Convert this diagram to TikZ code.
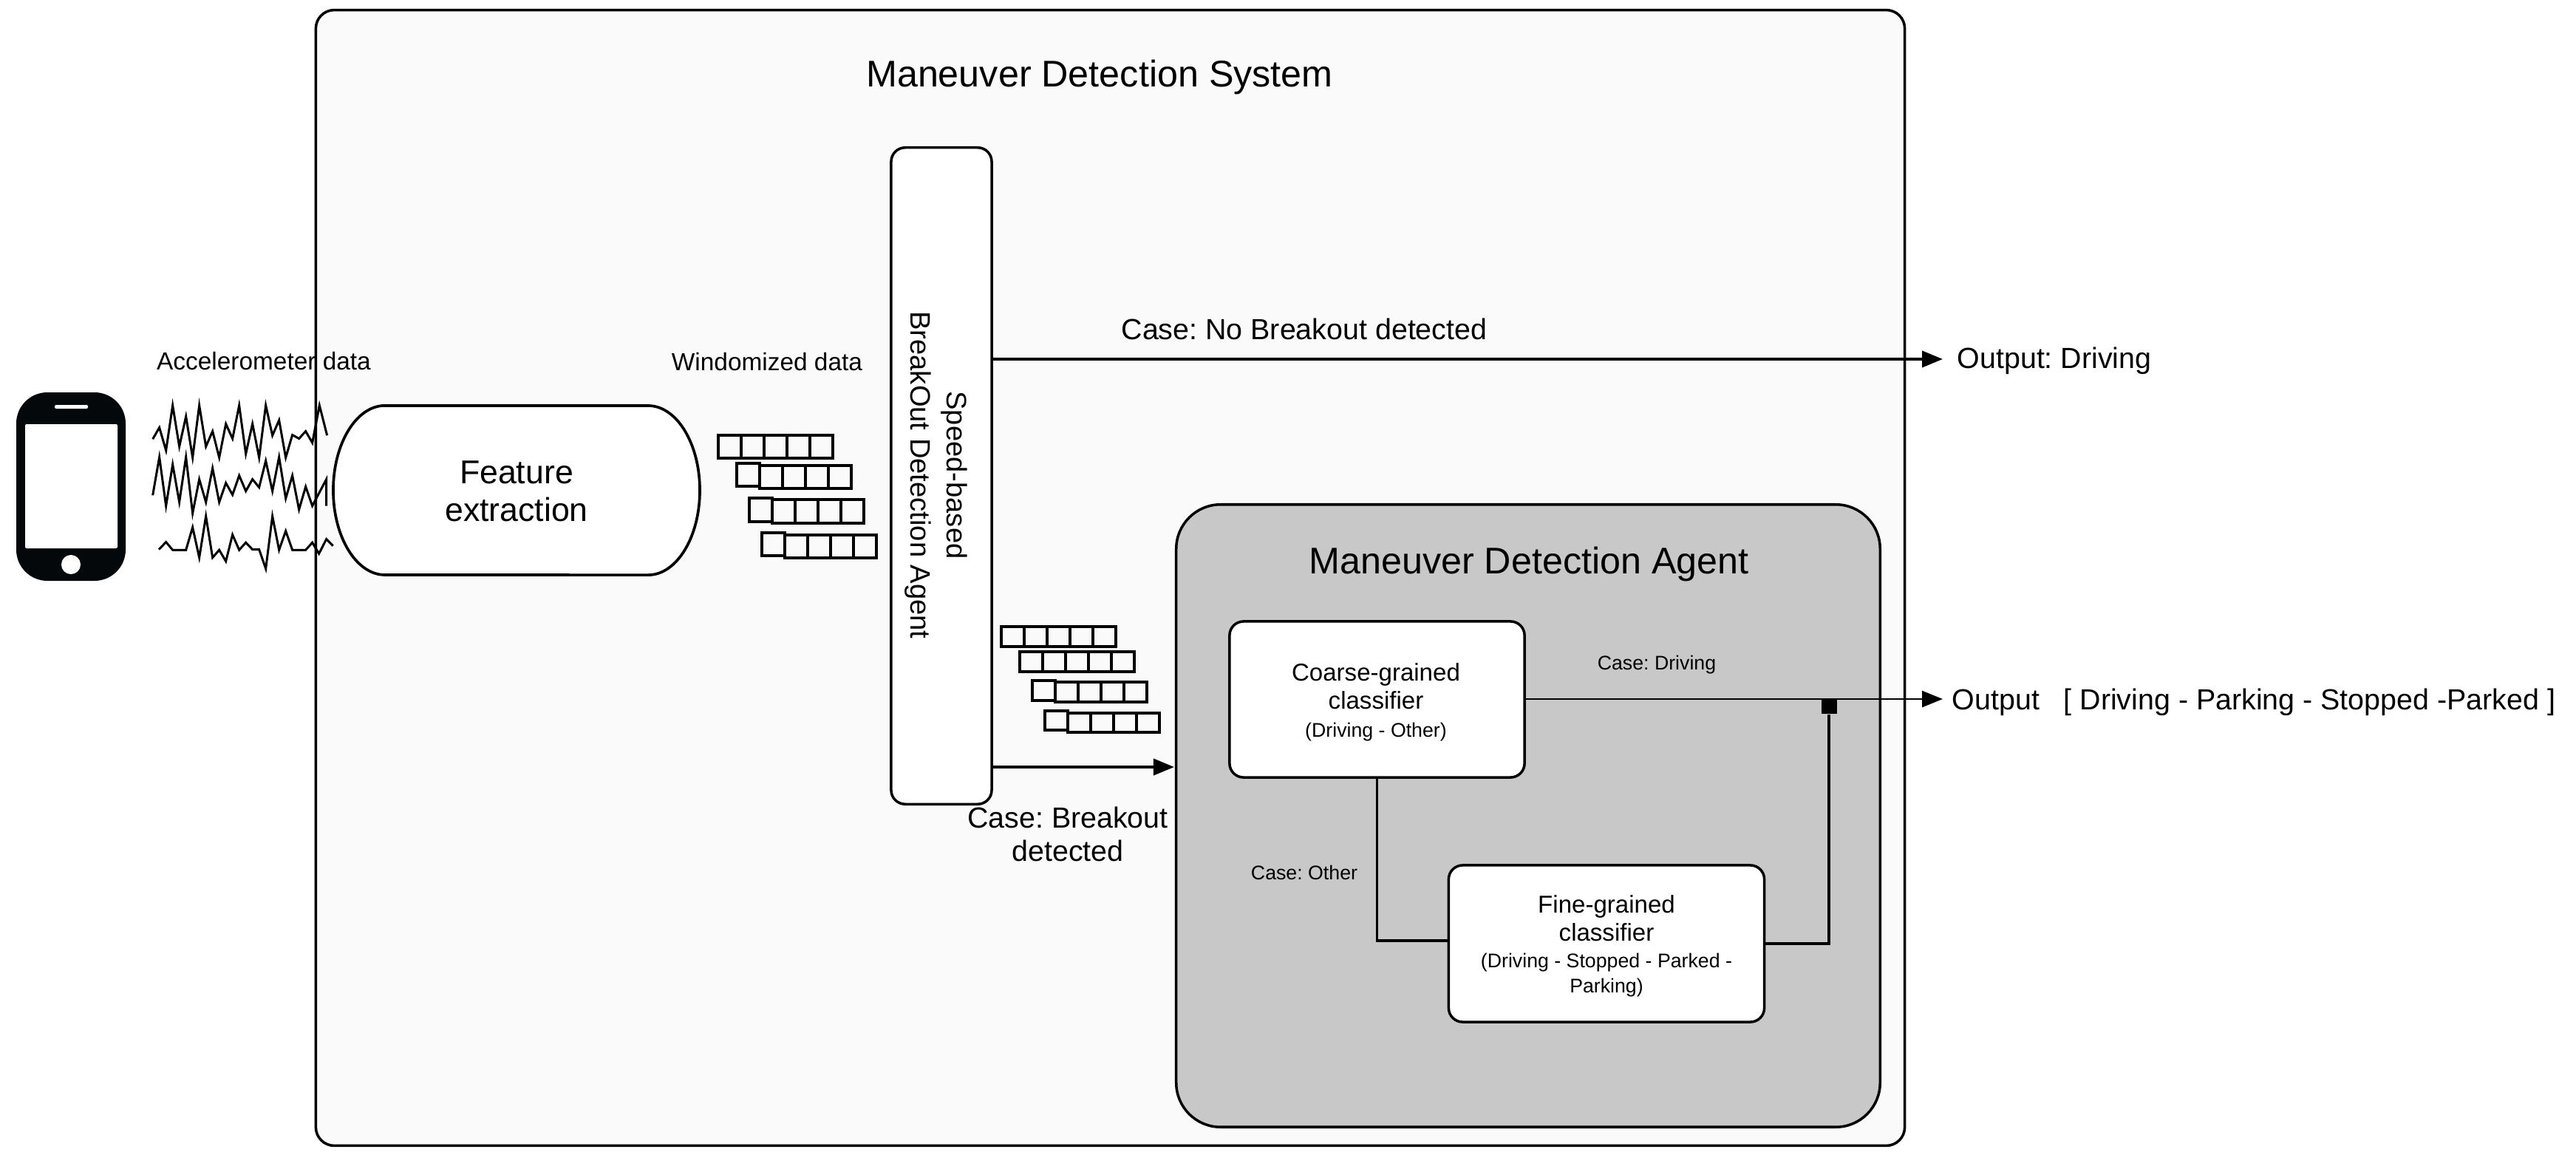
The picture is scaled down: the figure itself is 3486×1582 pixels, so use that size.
\documentclass[tikz,border=0pt]{standalone}
\usepackage{fontspec}
\setmainfont{Liberation Sans}
\usetikzlibrary{arrows.meta}

\definecolor{sysgray}{HTML}{FAFAFA}
\definecolor{agentgray}{HTML}{C8C8C8}
\definecolor{phoneblack}{HTML}{05080A}

\newcommand{\subfont}{\fontsize{7.6}{9.7}\selectfont}
\frenchspacing

\tikzset{
    textlabel/.style={inner sep=0pt, align=center, font=\fontsize{11.2}{12.8}\selectfont},
    smalllabel/.style={inner sep=0pt, align=center, font=\fontsize{9.5}{11.4}\selectfont},
    tinylabel/.style={inner sep=0pt, align=center, font=\subfont},
    titlelabel/.style={inner sep=0pt, font=\fontsize{14.3}{17}\selectfont},
    classlabel/.style={inner sep=0pt, align=center, font=\fontsize{9.4}{10.8}\selectfont},
    roundbox/.style={draw, line width=1pt, inner sep=0pt, rounded corners=.19cm},
    flow/.style={line width=1.1pt, arrows = {-Triangle[width=.22cm, length=.28cm]}},
    wire/.style={line width=.95pt},
    cell/.style={line width=1pt},
    wave/.style={line width=.85pt, line join=miter}
}

\begin{document}
\begin{tikzpicture}[x=.01cm, y=-.01cm]
    \useasboundingbox (0,0) rectangle (3486,1582);

    \node[roundbox, fill=sysgray, rounded corners=.25cm, minimum width=21.49cm, minimum height=15.36cm] (system) at (1502.5,782) {};
    \node[titlelabel] (systemtitle) at (1488,105) {Maneuver Detection System};

    % phone
    \fill[phoneblack, rounded corners=.42cm] (22,531) rectangle (170,786);
    \fill[white, rounded corners=.02cm] (34,574) rectangle (159,742);
    \fill[white, rounded corners=.02cm] (74,548) rectangle (119,553);
    \fill[white] (96,764) circle (.13cm);

    % feature extraction
    \draw[line width=1.05pt, fill=white] (521,549) -- (877,549) arc[start angle=90, end angle=-90, x radius=.70cm, y radius=1.145cm]
        -- (521,778) arc[start angle=270, end angle=90, x radius=.70cm, y radius=1.145cm] -- cycle;
    \node[textlabel, font=\fontsize{12.7}{14.5}\selectfont] (feature) at (699,665) {Feature\\extraction};

    % accelerometer signals
    \begin{scope}[x=.01cm/3, y=-.01cm/3, yshift=-4.5cm]
        \draw[wave] plot coordinates {(620,432) (647,385) (674,478) (701,295) (728,462) (755,340) (782,507) (809,295) (836,462) (863,400) (890,507) (917,370) (944,430) (971,295) (998,492) (1025,370) (1052,507) (1079,295) (1106,417) (1133,355) (1160,507) (1187,415) (1214,430) (1241,400) (1268,447) (1297,295) (1328,417)};
        \draw[wave] plot coordinates {(620,660) (647,505) (674,703) (701,535) (728,688) (755,505) (782,733) (809,595) (836,688) (863,550) (890,688) (917,610) (944,658) (971,580) (998,643) (1025,595) (1052,628) (1079,520) (1106,643) (1133,505) (1160,673) (1187,580) (1214,718) (1241,625) (1268,703) (1325,595) (1325,703)};
        \draw[wave] plot coordinates {(645,880) (674,850) (701,882) (755,882) (782,790) (809,913) (836,745) (863,913) (890,882) (917,928) (944,820) (971,882) (998,852) (1025,880) (1052,880) (1079,958) (1106,745) (1133,882) (1160,805) (1187,882) (1241,882) (1268,852) (1295,897) (1325,838) (1352,865)};
    \end{scope}
    \node[smalllabel] (acclabel) at (357,489) {Accelerometer data};

    % windows: first cell x / y / cell height / offset of the other four cells
    \node[smalllabel] (windowlabel) at (1038,490) {Windomized data};
    \foreach \x/\y/\h/\dy in {972/589/31/0, 997/627/31/3, 1014/674/32/2, 1031/721/31/3, 1355/848/27/0, 1380/882/27/0, 1397/921/27/2, 1414/962/26/3} {
        \draw[cell] (\x,\y) rectangle ++(31,\h);
        \foreach \i in {1,...,4}
            \draw[cell] ({\x+31*\i},{\y+\dy}) rectangle ++(31,\h);
    }

    % breakout agent
    \node[roundbox, fill=white, rotate=-90, minimum width=8.88cm, minimum height=1.36cm] (speed) at (1274,644) {};
    \node[rotate=-90, inner sep=0pt, align=center, font=\fontsize{10.85}{13.9}\selectfont] (speedtext) at (1267,643) {Speed-based\\BreakOut Detection Agent};

    \coordinate (drivingtip) at (2629,486);
    \draw[flow] (speed.north |- drivingtip) -- (drivingtip);
    \node[textlabel, anchor=west] (outdriving) at (2648,488) {Output: Driving};
    \node[textlabel] (nobreak) at (1765,445) {Case: No Breakout detected};

    % agent
    \node[roundbox, fill=agentgray, rounded corners=.6cm, minimum width=9.52cm, minimum height=8.42cm] (agent) at (2068,1104) {};
    \node[titlelabel] (agenttitle) at (2069,763) {Maneuver Detection Agent};

    \coordinate (breakin) at (1589,1038);
    \draw[flow] (speed.north |- breakin) -- (breakin);
    \node[textlabel] (breaklabel) at (1445,1129) {Case: Breakout\\detected};

    \node[roundbox, fill=white, minimum width=3.99cm, minimum height=2.11cm] (coarse) at (1863.5,946.5) {};
    \node[classlabel] (coarsetext) at (1862,950) {Coarse-grained\\classifier\\{\subfont (Driving - Other)}};
    \node[roundbox, fill=white, minimum width=4.27cm, minimum height=2.12cm] (fine) at (2174,1277) {};
    \node[classlabel] (finetext) at (2174,1280) {Fine-grained\\classifier\\[-.6pt]{\subfont (Driving - Stopped - Parked -}\\[-1.1pt]{\subfont Parking)}};

    \coordinate (alltip) at (2629,946);
    \node[textlabel, anchor=west] (outall) at (2641,950) {Output~~~[ Driving - Parking - Stopped -Parked ]};
    \node[fill=black, inner sep=0pt, minimum width=.21cm, minimum height=.2cm] (merge) at (2475,956) {};

    \draw[flow, line width=.78pt] (coarse.east |- alltip) -- (alltip);
    \draw[wire] (coarse.south) |- ([yshift=.04cm]fine.west);
    \draw[wire] (fine.east) -| (merge.south);

    \node[tinylabel] (casedriving) at (2242,900) {Case: Driving};
    \node[tinylabel] (caseother) at (1765,1181) {Case: Other};
\end{tikzpicture}
\end{document}
